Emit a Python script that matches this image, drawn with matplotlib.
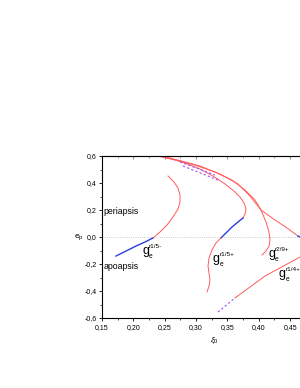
import matplotlib.pyplot as plt
import numpy as np
from matplotlib.ticker import FuncFormatter, MultipleLocator

plt.rcParams['font.family'] = ['Liberation Sans', 'DejaVu Sans']
plt.rcParams['mathtext.fontset'] = 'custom'
plt.rcParams['mathtext.rm'] = 'Liberation Sans'
plt.rcParams['mathtext.it'] = 'Liberation Sans:italic'

# branch g_e^{r1/5-}
g15m_blue_x = [0.1723, 0.1883, 0.2042, 0.2186, 0.2313]
g15m_blue_y = [-0.141, -0.104, -0.067, -0.037, -0.007]
g15m_red_x = [0.2313, 0.2425, 0.2537, 0.2632, 0.2712, 0.2744, 0.2744, 0.2712, 0.2648, 0.2553]
g15m_red_y = [-0.007, 0.037, 0.089, 0.148, 0.207, 0.259, 0.311, 0.363, 0.407, 0.452]

# branch g_e^{r1/5+}
g15p_top_x = [0.2377, 0.2585, 0.2824, 0.3063, 0.3270, 0.3462, 0.3605, 0.3701, 0.3765, 0.3797, 0.3781, 0.3749]
g15p_top_y = [0.600, 0.585, 0.548, 0.504, 0.452, 0.393, 0.341, 0.296, 0.252, 0.207, 0.170, 0.141]
g15p_blue_x = [0.3749, 0.3669, 0.3573, 0.3478, 0.3398]
g15p_blue_y = [0.141, 0.111, 0.074, 0.030, -0.007]
g15p_low_x = [0.3398, 0.3318, 0.3254, 0.3207, 0.3191, 0.3207, 0.3222, 0.3207, 0.3175]
g15p_low_y = [-0.007, -0.044, -0.096, -0.156, -0.215, -0.267, -0.319, -0.363, -0.407]

# branch g_e^{r2/9+}
g29p_x = [0.2393, 0.2664, 0.2983, 0.3302, 0.3573, 0.3781, 0.3940, 0.4036, 0.4116, 0.4164, 0.4180, 0.4164, 0.4116, 0.4052]
g29p_y = [0.600, 0.570, 0.533, 0.481, 0.422, 0.348, 0.274, 0.200, 0.111, 0.037, -0.022, -0.067, -0.104, -0.133]

# upper branch running off to the right
gr_x = [0.2409, 0.2712, 0.3063, 0.3382, 0.3669, 0.3860, 0.4036, 0.4259, 0.4451, 0.4626]
gr_y = [0.600, 0.570, 0.526, 0.467, 0.393, 0.304, 0.200, 0.126, 0.067, 0.007]
gr_blue_x = [0.4626, 0.48, 0.50]
gr_blue_y = [0.007, -0.03, -0.07]

# branch g_e^{r1/4+}
g14p_dash_x = [0.335, 0.362]
g14p_dash_y = [-0.556, -0.452]
g14p_red_x = [0.362, 0.410, 0.466, 0.50]
g14p_red_y = [-0.452, -0.289, -0.148, -0.08]

# dashed pieces near the top
top_dash1_x = [0.2744, 0.3302]
top_dash1_y = [0.556, 0.459]
top_dash2_x = [0.2792, 0.3350]
top_dash2_y = [0.526, 0.422]

# branch labels: (x, y, superscript)
lab_x = [0.2138, 0.3270, 0.4148, 0.4320]
lab_y = [-0.126, -0.185, -0.148, -0.296]
lab_sup = ['r1/5-', 'r1/5+', 'r2/9+', 'r1/4+']

red = '#ff5a5a'
blue = '#2b3de0'
purple = '#a14cff'

fig = plt.figure(figsize=(3.0, 3.88), dpi=100)
# the right part of the original plot is cut off at the picture edge
ax = fig.add_axes([0.34, 0.1804, 0.66, 0.4175])

ax.axhline(0, color='#bbbbbb', lw=0.6, ls=':')

ax.plot(g15m_red_x, g15m_red_y, color=red, lw=0.7)
ax.plot(g15m_blue_x, g15m_blue_y, color=blue, lw=1.0)
ax.plot(g15p_top_x, g15p_top_y, color=red, lw=0.7)
ax.plot(g15p_blue_x, g15p_blue_y, color=blue, lw=1.0)
ax.plot(g15p_low_x, g15p_low_y, color=red, lw=0.7)
ax.plot(g29p_x, g29p_y, color=red, lw=0.7)
ax.plot(gr_x, gr_y, color=red, lw=0.7)
ax.plot(gr_blue_x, gr_blue_y, color=blue, lw=1.0)
ax.plot(g14p_red_x, g14p_red_y, color=red, lw=0.7)
ax.plot(g14p_dash_x, g14p_dash_y, color=purple, lw=0.8, ls=(0, (2, 2)))
ax.plot(top_dash1_x, top_dash1_y, color=purple, lw=0.8, ls=(0, (2, 2)))
ax.plot(top_dash2_x, top_dash2_y, color=purple, lw=0.8, ls=(0, (2, 2)))

ax.set_xlim(0.15, 0.4658)
ax.set_ylim(-0.6, 0.6)
ax.spines['right'].set_visible(False)

fmt = FuncFormatter(lambda v, p: f"{v:.2f}".replace('.', ','))
fmty = FuncFormatter(lambda v, p: f"{v:.1f}".replace('.', ',').replace('-0,0', '0,0'))
ax.xaxis.set_major_locator(MultipleLocator(0.05))
ax.xaxis.set_minor_locator(MultipleLocator(0.025))
ax.yaxis.set_major_locator(MultipleLocator(0.2))
ax.yaxis.set_minor_locator(MultipleLocator(0.1))
ax.xaxis.set_major_formatter(fmt)
ax.yaxis.set_major_formatter(fmty)
ax.tick_params(which='major', direction='out', length=2.5, width=0.6, labelsize=5, pad=1.5)
ax.tick_params(which='minor', direction='out', length=1.5, width=0.5)

top = ax.secondary_xaxis('top')
top.xaxis.set_major_locator(MultipleLocator(0.05))
top.xaxis.set_minor_locator(MultipleLocator(0.025))
top.tick_params(which='major', direction='in', length=2.5, width=0.5, labeltop=False, color='#555555')
top.tick_params(which='minor', direction='in', length=1.5, width=0.4, color='#555555')
top.spines['top'].set_color('#777777')

for s in ['left', 'bottom']:
    ax.spines[s].set_linewidth(0.8)

ax.set_xlabel(r'$\xi_0$', fontsize=6)
ax.xaxis.set_label_coords(0.57, -0.11)
ax.set_ylabel(r'$\mathrm{e}_\mathrm{p}$', fontsize=6, rotation=0, labelpad=4, va='center')

ax.text(0.152, 0.17, 'periapsis', fontsize=6.3)
ax.text(0.152, -0.24, 'apoapsis', fontsize=6.3)

for x, y, sup in zip(lab_x, lab_y, lab_sup):
    ax.text(x, y, 'g', fontsize=9, ha='left', va='baseline')
    ax.annotate('e', (x, y), xytext=(4.8, -2.6), textcoords='offset points',
                fontsize=4.8, ha='left', va='baseline')
    ax.annotate(sup, (x, y), xytext=(5.0, 4.6), textcoords='offset points',
                fontsize=4.6, ha='left', va='baseline')

fig.savefig('out.png', dpi=100)
